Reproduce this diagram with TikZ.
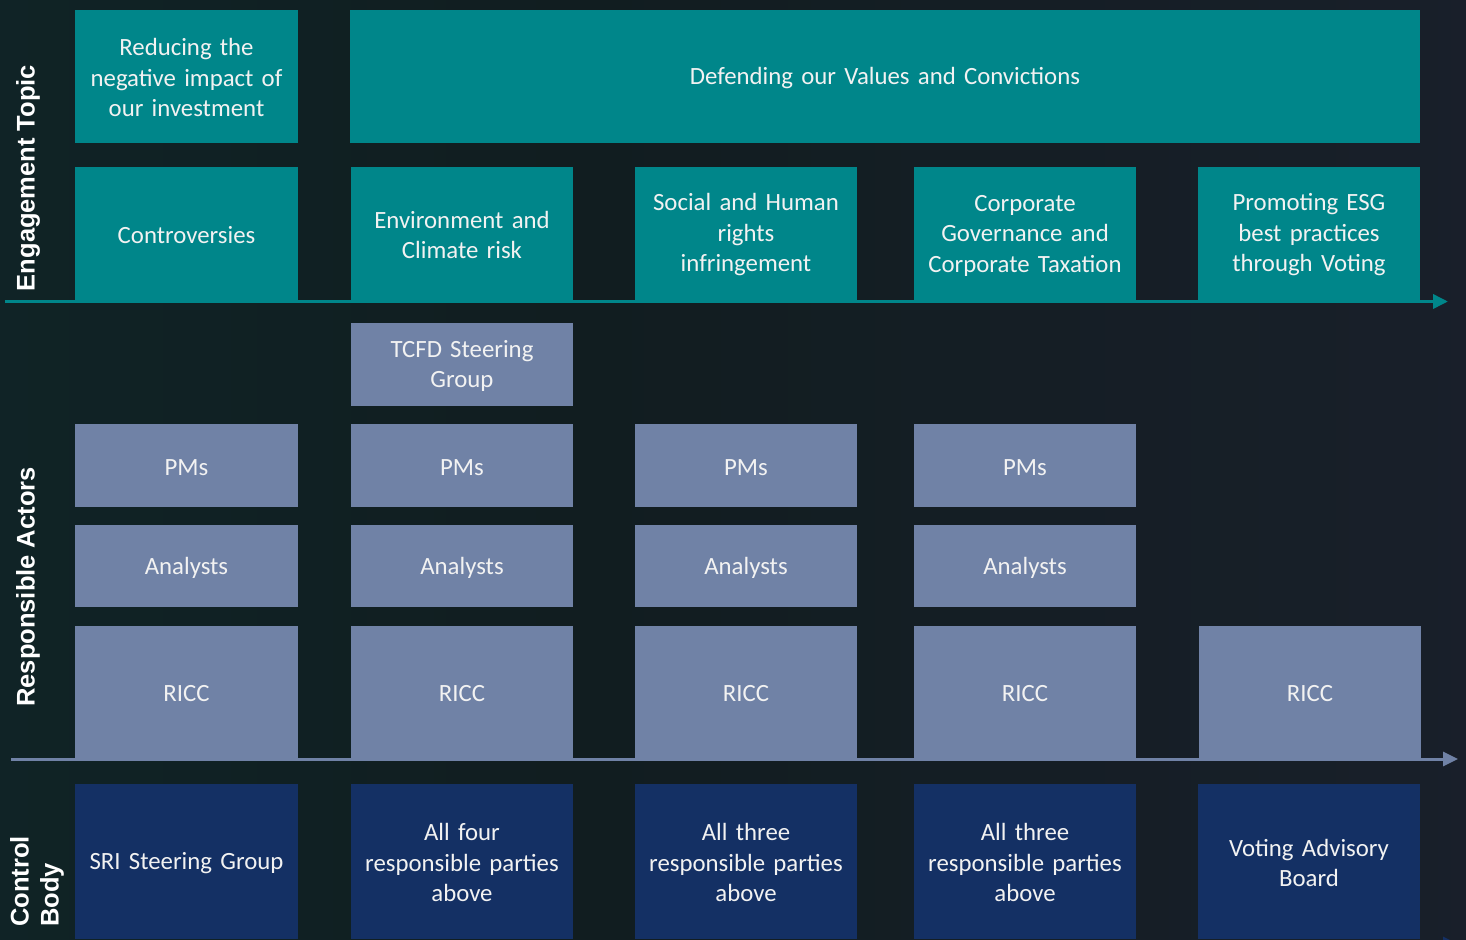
\documentclass[tikz,border=0pt]{standalone}
\usepackage{fontspec}
\setmainfont{Carlito}
\newfontfamily\labfont{Liberation Sans}
\usetikzlibrary{arrows.meta}
\definecolor{teal1}{HTML}{00868A}
\definecolor{slate1}{HTML}{7082A6}
\definecolor{navy1}{HTML}{143064}
\definecolor{txt}{HTML}{F2F2F2}
\definecolor{bgL}{HTML}{0E2B2D}
\definecolor{bgM}{HTML}{111D20}
\definecolor{bgR}{HTML}{1F2132}
\pgfdeclarehorizontalshading{bgshade}{100bp}{color(0bp)=(bgL); color(45bp)=(bgM); color(100bp)=(bgR)}
\tikzset{
  box/.style={rectangle, inner sep=0pt, align=center, text width=218pt, text=txt,
    font=\fontsize{24.8}{30.5}\selectfont, execute at begin node={\rule{0pt}{20pt}}},
  tealbox/.style={box, fill=teal1},
  slatebox/.style={box, fill=slate1},
  navybox/.style={box, fill=navy1},
  sidelab/.style={rotate=90, inner sep=0pt, text=white, font=\labfont\bfseries\fontsize{25.5}{30}\selectfont},
}
\begin{document}
\begin{tikzpicture}[x=1pt,y=-1pt]
\useasboundingbox (0,0) rectangle (1466,939);
\shade[shading=bgshade] (0,0) rectangle (1466,939);
\begin{scope}
\clip (0,0) rectangle (1466,939);
% engagement topic row 1
\node[tealbox, minimum width=223pt, minimum height=133pt] (t1) at (186.5,76.5) {Reducing the\\negative impact of\\our investment};
\node[tealbox, minimum width=1070pt, minimum height=133pt, text width=1000pt] (t2) at (885,76.5) {Defending our Values and Convictions};
% row 2
\node[tealbox, minimum width=223pt, minimum height=133pt] (e1) at (186.5,233.5) {Controversies};
\node[tealbox, minimum width=222pt, minimum height=133pt] (e2) at (462,233.5) {Environment and\\Climate risk};
\node[tealbox, minimum width=222pt, minimum height=133pt] (e3) at (746,233.5) {Social and Human\\rights\\infringement};
\node[tealbox, minimum width=222pt, minimum height=133pt] (e4) at (1025,233.5) {Corporate\\Governance and\\Corporate Taxation};
\node[tealbox, minimum width=222pt, minimum height=133pt] (e5) at (1309,233.5) {Promoting ESG\\best practices\\through Voting};
% axis 1
\coordinate (a1s) at (5,301.5);
\coordinate (a1e) at (1448,301.5);
\draw[teal1, line width=3.5pt, -{Triangle[length=15pt,width=14pt]}] (a1s) -- (a1e);
% responsible actors
\node[slatebox, minimum width=222pt, minimum height=83pt] (tcfd) at (462,364.5) {TCFD Steering\\Group};
\node[slatebox, minimum width=223pt, minimum height=83pt] (p1) at (186.5,465.5) {PMs};
\node[slatebox, minimum width=222pt, minimum height=83pt] (p2) at (462,465.5) {PMs};
\node[slatebox, minimum width=222pt, minimum height=83pt] (p3) at (746,465.5) {PMs};
\node[slatebox, minimum width=222pt, minimum height=83pt] (p4) at (1025,465.5) {PMs};
\node[slatebox, minimum width=223pt, minimum height=82pt] (n1) at (186.5,566) {Analysts};
\node[slatebox, minimum width=222pt, minimum height=82pt] (n2) at (462,566) {Analysts};
\node[slatebox, minimum width=222pt, minimum height=82pt] (n3) at (746,566) {Analysts};
\node[slatebox, minimum width=222pt, minimum height=82pt] (n4) at (1025,566) {Analysts};
\node[slatebox, minimum width=223pt, minimum height=132pt] (r1) at (186.5,692) {RICC};
\node[slatebox, minimum width=222pt, minimum height=132pt] (r2) at (462,692) {RICC};
\node[slatebox, minimum width=222pt, minimum height=132pt] (r3) at (746,692) {RICC};
\node[slatebox, minimum width=222pt, minimum height=132pt] (r4) at (1025,692) {RICC};
\node[slatebox, minimum width=222pt, minimum height=132pt] (r5) at (1310,692) {RICC};
% axis 2
\coordinate (a2s) at (11,759);
\coordinate (a2e) at (1458,759);
\draw[slate1, line width=3pt, -{Triangle[length=15pt,width=14pt]}] (a2s) -- (a2e);
% control body
\node[navybox, minimum width=223pt, minimum height=155pt] (c1) at (186.5,861.5) {SRI Steering Group};
\node[navybox, minimum width=222pt, minimum height=155pt] (c2) at (462,861.5) {All four\\responsible parties\\above};
\node[navybox, minimum width=222pt, minimum height=155pt] (c3) at (746,861.5) {All three\\responsible parties\\above};
\node[navybox, minimum width=222pt, minimum height=155pt] (c4) at (1025,861.5) {All three\\responsible parties\\above};
\node[navybox, minimum width=222pt, minimum height=155pt] (c5) at (1309,861.5) {Voting Advisory\\Board};
% axis 3 (mostly below frame)
\coordinate (a3s) at (11,944);
\coordinate (a3e) at (1458,944);
\draw[navy1, line width=3pt, -{Triangle[length=15pt,width=14pt]}] (a3s) -- (a3e);
\end{scope}
% side labels
\node[sidelab] (l1) at (28,178) {Engagement Topic};
\node[sidelab] (l2) at (28,587) {Responsible Actors};
\node[sidelab, anchor=west, align=left] (l3) at (37,927) {Control\\Body};
\end{tikzpicture}
\end{document}
